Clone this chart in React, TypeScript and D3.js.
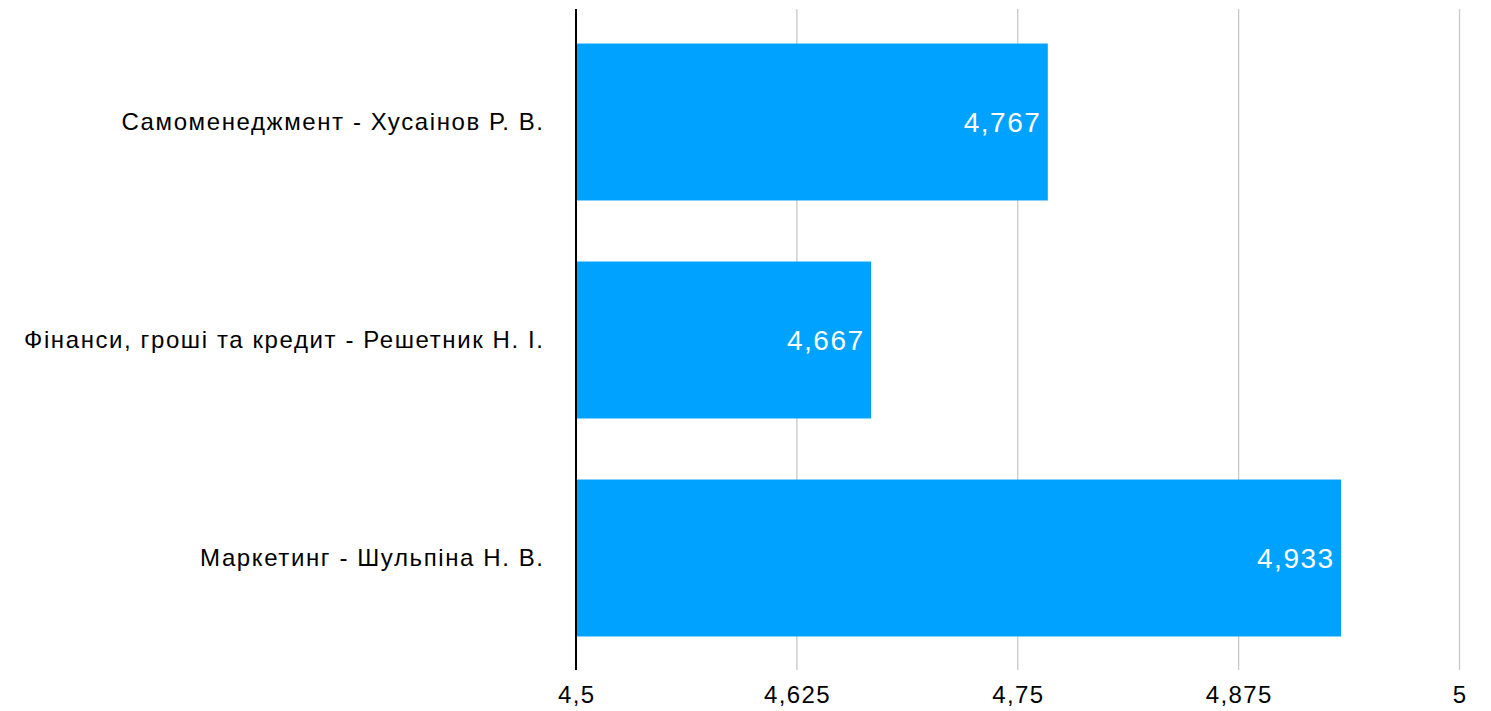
import React from "react";
import * as d3 from "d3";

const categories = [
  "Самоменеджмент - Хусаінов Р. В.",
  "Фінанси, гроші та кредит - Решетник Н. І.",
  "Маркетинг - Шульпіна Н. В.",
];
const values = [4.767, 4.667, 4.933];
const valueLabels = ["4,767", "4,667", "4,933"];
const ticks = [4.5, 4.625, 4.75, 4.875, 5];
const tickLabels = ["4,5", "4,625", "4,75", "4,875", "5"];

const W = 1491;
const H = 711;
const FONT = "'Liberation Sans', Arial, Helvetica, sans-serif";

export default function App() {
  const x = d3.scaleLinear().domain([4.5, 5]).range([576, 1459.5]);
  const y = d3.scaleBand<string>().domain(categories).range([13, 667]).paddingInner(0.28).paddingOuter(0.14);
  const bw = y.bandwidth();
  return (
    <svg width={W} height={H} style={{ position: "absolute", left: 0, top: 0, background: "#fff" }}>
      {ticks.slice(1).map((t, i) => (
        <line key={"g" + i} x1={x(t)} x2={x(t)} y1={9} y2={670} stroke="#c8c8c8" strokeWidth={1.3} />
      ))}
      {categories.map((c, i) => (
        <rect key={"b" + i} x={x(4.5)} y={y(c)!} width={x(values[i]) - x(4.5)} height={bw} fill="#00a2ff" />
      ))}
      <line x1={576} x2={576} y1={9} y2={670} stroke="#000" strokeWidth={2} />
      {categories.map((c, i) => (
        <text key={"v" + i} x={x(values[i]) - 6.5} y={y(c)! + bw / 2} dy="0.36em" textAnchor="end"
          fill="#fff" fontSize={28} letterSpacing={1.5} fontFamily={FONT}>{valueLabels[i]}</text>
      ))}
      {categories.map((c, i) => (
        <text key={"c" + i} x={544.6} y={y(c)! + bw / 2} dy="0.35em" textAnchor="end"
          fill="#000" fontSize={24} letterSpacing={1.6} fontFamily={FONT}>{c}</text>
      ))}
      {ticks.map((t, i) => (
        <text key={"t" + i} x={x(t) + 0.7} y={703} textAnchor="middle" fill="#000" fontSize={24}
          letterSpacing={1.4} fontFamily={FONT}>
          {tickLabels[i]}
        </text>
      ))}
    </svg>
  );
}
